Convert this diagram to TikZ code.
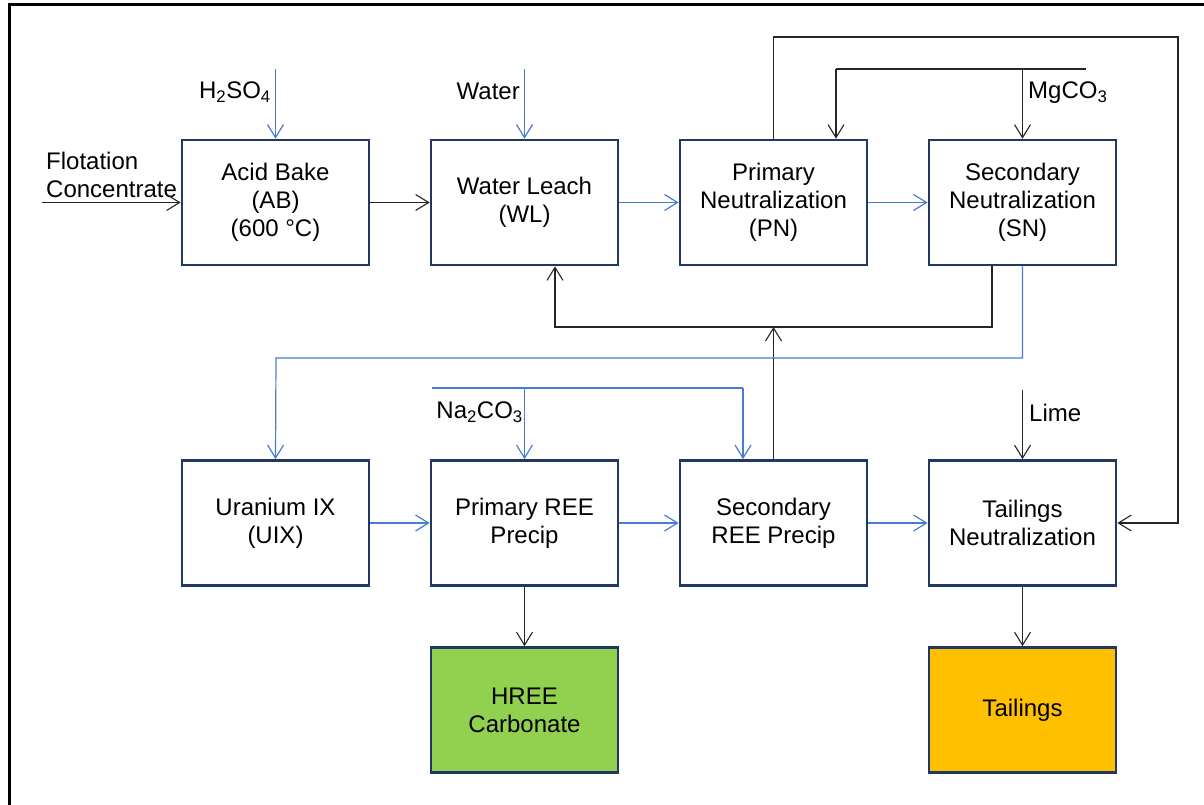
\documentclass[tikz,border=0pt]{standalone}
\usepackage{fontspec}
\setmainfont{Liberation Sans}
\usetikzlibrary{arrows.meta}
\definecolor{bl}{HTML}{4A7BD0}
\definecolor{nv}{HTML}{1F3864}
\definecolor{gr}{HTML}{92D050}
\definecolor{og}{HTML}{FFC000}
\begin{document}
\begin{tikzpicture}[x=1pt,y=-1pt,
  font=\fontsize{24}{28}\selectfont,
  proc/.style={draw=nv, line width=2.7pt, minimum width=187pt, minimum height=125pt, inner sep=0pt, align=center, fill=white},
  lab/.style={inner sep=0pt},
  bk/.style={draw=black!85, line width=1.1pt},
  bu/.style={draw=bl, line width=1.2pt},
  arr/.style={-{Straight Barb[length=13pt,width=16pt]}}]
\useasboundingbox (0,0) rectangle (1204,805);
\draw[line width=3pt] (9,815) -- (9,5) -- (1215,5);

% row 1
\node[proc] (AB) at (275.5,202.5) {Acid Bake\\(AB)\\(600 °C)};
\node[proc] (WL) at (524.5,202.5) {Water Leach\\(WL)};
\node[proc] (PN) at (773.5,202.5) {Primary\\Neutralization\\(PN)};
\node[proc] (SN) at (1022.5,202.5) {Secondary\\Neutralization\\(SN)};
% row 2
\node[proc] (UIX) at (275.5,523) {Uranium IX\\(UIX)};
\node[proc] (PR) at (524.5,523) {Primary REE\\Precip};
\node[proc] (SR) at (773.5,523) {Secondary\\REE Precip};
\node[proc] (TN) at (1022.5,523) {Tailings\\Neutralization};
% row 3
\node[proc, fill=gr] (HC) at (524.5,710) {HREE\\Carbonate};
\node[proc, fill=og] (TL) at (1022.5,710) {Tailings};

% labels
\node[lab, anchor=west, align=left] (FC) at (46,175) {Flotation\\Concentrate};
\node[lab, anchor=east] (H2) at (271,92) {H\textsubscript{2}SO\textsubscript{4}};
\node[lab, anchor=east] (Wa) at (520,91) {Water};
\node[lab, anchor=west] (Mg) at (1028,93) {MgCO\textsubscript{3}};
\node[lab, anchor=east] (Na) at (523,412) {Na\textsubscript{2}CO\textsubscript{3}};
\node[lab, anchor=west] (Li) at (1029,413) {Lime};

% coordinates
\coordinate (fcin) at (42,202.5);
\coordinate (h2in) at (275.5,69);
\coordinate (wain) at (524.5,69);
\coordinate (mgR) at (1086,69);
\coordinate (mgL) at (836,69);
\coordinate (topR) at (1178,37);
\coordinate (rec) at (555,327);
\coordinate (blue) at (276,358);
\coordinate (naL) at (432,388);
\coordinate (naR) at (743,388);
\coordinate (limein) at (1022.5,390);

% row 1 flows
\draw[bk,arr] (fcin) -- (AB.west);
\draw[bu,arr] (h2in) -- (AB.north);
\draw[bk,arr] (AB.east) -- (WL.west);
\draw[bu,arr] (wain) -- (WL.north);
\draw[bu,arr] (WL.east) -- (PN.west);
\draw[bu,arr] (PN.east) -- (SN.west);
\draw[bk] (mgR) -- (mgL);
\draw[bk,arr] (mgL) -- (mgL |- PN.north);
\draw[bk,arr] (SN.north |- mgR) -- (SN.north);
\draw[bk,arr] (PN.north) |- (topR) |- (TN.east);
% recycle
\draw[bk,arr] ([xshift=-30.5pt]SN.south) |- (rec) -- (rec |- WL.south);
\draw[bk,arr] (SR.north) -- (SR.north |- rec);
% SN to UIX
\draw[bu,arr] (SN.south) |- (blue) -- (UIX.north);
% Na2CO3
\draw[bu] (naL) -- (naR);
\draw[bu,arr] (naR) -- (naR |- SR.north);
\draw[bu,arr] (PR.north |- naL) -- (PR.north);
% lime
\draw[bk,arr] (limein) -- (TN.north);
% row 2 flows
\draw[bu,arr] (UIX.east) -- (PR.west);
\draw[bu,arr] (PR.east) -- (SR.west);
\draw[bu,arr] (SR.east) -- (TN.west);
% products
\draw[bk,arr] (PR.south) -- (HC.north);
\draw[bk,arr] (TN.south) -- (TL.north);
\end{tikzpicture}
\end{document}
